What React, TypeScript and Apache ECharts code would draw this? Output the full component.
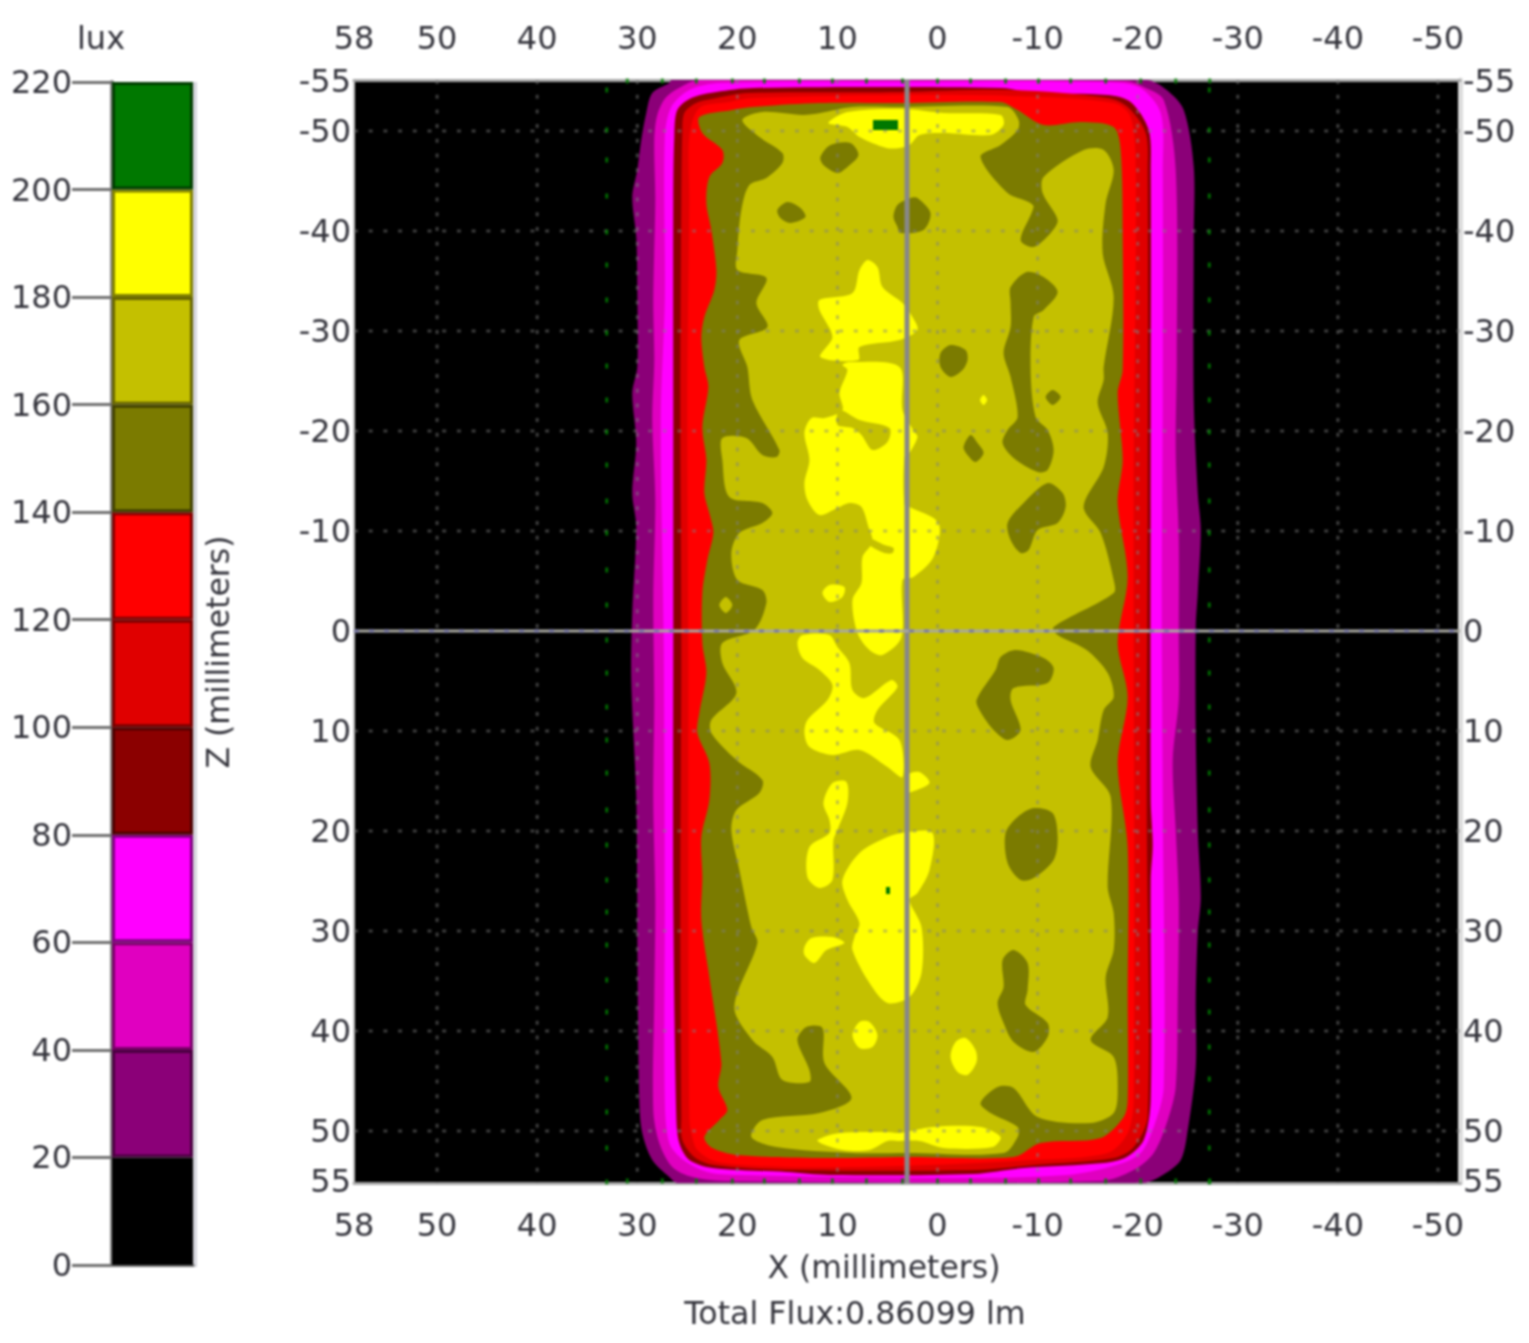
import React, { useEffect, useRef } from "react";
import * as echarts from "echarts";

type P = number[];

// ---- colour bar ----
const luxTicks = [0, 20, 40, 60, 80, 100, 120, 140, 160, 180, 200, 220];
const luxStep = [20, 20, 20, 20, 20, 20, 20, 20, 20, 20, 20];
const luxColors = ["#000000", "#8B0078", "#E000C0", "#FF00FF", "#8B0000", "#E00000", "#FF0000", "#7B7B00", "#C4C000", "#FFFF00", "#007800"];
const luxEdges = ["#000000", "#4a0040", "#780068", "#800080", "#4a0000", "#780000", "#800000", "#404000", "#666400", "#808000", "#003c00"];

// ---- axes ----
const xLabels = [58.3, 50, 40, 30, 20, 10, 0, -10, -20, -30, -40, -50];
const zLabels = [-55, -50, -40, -30, -20, -10, 0, 10, 20, 30, 40, 50, 55];
const xGrid = [50, 40, 30, 20, 10, 0, -10, -20, -30, -40, -50];
const zGrid = [-50, -40, -30, -20, -10, 10, 20, 30, 40, 50];
const sourceX = 3.05;
const sourceZ = 0;

// ---- contour outlines, [x mm, z mm] ----
const band20: P[] = [[26.6,-55.1],[26.8,-54.8],[28.5,-53.8],[29.1,-51.8],[29.6,-49.1],[30,-46.1],[30.5,-43.4],[30.1,-39.4],[30,-34.4],[30,-26.4],[30.5,-23.8],[30.1,-18.8],[30.5,-13.8],[30.1,-10.4],[30.5,-1.8],[30.6,4.9],[30.1,16.6],[30,26.6],[30,30.2],[29.8,46.9],[29.5,50.2],[28.5,52.9],[26.8,54.6],[26,55.2],[-20.5,55.2],[-22.5,54.4],[-24.3,52.9],[-25,49.9],[-25.8,43.6],[-25.8,36.9],[-26,30.2],[-26.3,26.6],[-26,19.9],[-25.8,9.9],[-25.8,-0.4],[-26,-3.8],[-26.3,-10.1],[-26,-13.8],[-25.6,-23.1],[-25.6,-39.4],[-25.6,-46.4],[-24.6,-52.1],[-22.9,-54.1],[-20.9,-55.1]];
const band40: P[] = [[23.8,-55.1],[25.1,-54.7],[27.1,-53.4],[28,-51.6],[28.3,-49.1],[28.2,-43.1],[28.4,-33.1],[28.3,-27.1],[28.5,-21.1],[28.2,-13.1],[28.4,-3.1],[28.3,6.9],[28.4,16.9],[28.2,26.9],[28.3,36.9],[28.4,47.9],[27.8,51.2],[26.5,53.6],[24.5,54.6],[20.8,55],[-16.3,55],[-19.6,53.9],[-21.6,52.2],[-23,48.9],[-23.8,45.6],[-24,36.9],[-24.1,26.9],[-23.8,19.9],[-23.5,12.9],[-24.1,6.9],[-24.1,0.9],[-24.1,-9.1],[-23.8,-18.1],[-23.9,-27.1],[-23.8,-46.1],[-22.6,-53.1],[-20.6,-54.4],[-18.8,-55]];
const band60: P[] = [[27.25,-49.4],[26.6,-52.4],[24.8,-54.1],[21.8,-54.8],[3.8,-54.9],[-16.3,-54.9],[-20.1,-54.4],[-22.3,-51.8],[-22.5,-46.1],[-22.5,-23.1],[-22.4,-3.1],[-22.5,16.9],[-22.6,45.6],[-21.6,49.6],[-20.3,52.2],[-17.9,53.4],[-12.9,54.4],[-1.3,54.7],[20,54.4],[23,54.1],[25.4,52.9],[26.8,51.2],[27.25,46.9],[27.25,26.9],[27.35,1.9],[27.65,-21.1],[27.25,-33.1]];
const band80: P[] = [[26.3,-49.4],[26,-52.1],[24.6,-53.3],[22.1,-53.9],[18.4,-54.3],[-6.4,-54.3],[-9.6,-53.8],[-17,-53.6],[-19.3,-52.9],[-21.1,-50.1],[-21.3,-46.1],[-21.3,-23.1],[-21.3,16.9],[-21.5,21.4],[-21.3,24.9],[-21.3,46.9],[-20.6,50.9],[-18.9,52.6],[-16.6,53.2],[-8.6,53.7],[-3.6,54.3],[10.8,54.4],[15.1,54.1],[22.5,53.7],[24.8,52.9],[25.8,51.2],[26.1,48.6],[26.4,26.9],[26.4,1.9],[26.4,-23.1],[26.4,-43.1]];
const band100: P[] = [[25.5,-49.8],[25.3,-51.8],[24.1,-52.8],[22.1,-53.3],[19,-53.8],[3.8,-53.9],[-7.3,-54.1],[-17,-53.3],[-19,-52.4],[-20.8,-49.8],[-21,-46.1],[-21,-13.1],[-20.9,16.9],[-21,48.5],[-19.6,51.6],[-17.6,52.7],[-9.6,53.4],[-3.9,53.9],[15.1,53.9],[22.4,53.4],[24.3,52.6],[25.5,50.9],[25.6,48.6],[25.7,26.9],[25.6,1.9],[25.7,-23.1],[25.6,-43.1]];
const band120: P[] = [[24.8,-49.4],[23.8,-52.3],[20.8,-52.9],[18.5,-53.3],[3.8,-53.6],[-7.3,-53.5],[-17.6,-52.8],[-19.3,-51.4],[-19.8,-46.1],[-19.6,-13.1],[-19.6,46.9],[-19,50.2],[-17,52.2],[-9.6,52.9],[3.8,53.5],[15,53.6],[22,53.1],[24,51.9],[24.6,50.2],[24.8,48.6],[24.9,26.9],[24.9,1.9],[25,-23.1],[24.8,-43.1]];
const band140: P[] = [[23.8,-51.4],[20.5,-52.1],[18.5,-52.4],[11.8,-52.8],[3.8,-52.8],[-6.3,-52.9],[-8,-52.1],[-10.6,-50.6],[-14.3,-50.9],[-17.6,-50.4],[-18.3,-48.1],[-18.5,-39.4],[-18.5,-26.1],[-18,-23.8],[-18.5,-17.1],[-18,-12.8],[-19,-5.4],[-18,1.2],[-19,6.6],[-18,13.2],[-19,21.6],[-19,36.9],[-19,46.9],[-18.6,48.6],[-16.3,50.7],[-10.3,51.2],[-7.6,52.6],[3,52.6],[11.8,52.7],[20,52.4],[22.5,51.7],[23.3,50.6],[21.8,48.9],[21,47.9],[21.9,45.6],[21.6,43.2],[22.8,34.6],[23.6,28.9],[23.5,24.6],[23.6,20.6],[22.8,16.9],[22.8,13.2],[24,10.2],[23.8,8.2],[23.1,4.2],[23.5,1.2],[23.5,-3.8],[23,-7.1],[22.4,-9.8],[22.7,-11.4],[23.3,-13.8],[23.1,-17.1],[23.5,-20.4],[22.9,-24.4],[23.3,-26.4],[23.6,-29.4],[23.3,-31.4],[22.3,-34.1],[22.1,-36.1],[22.6,-40.1],[23.1,-42.8],[22.8,-45.4],[21.5,-46.8],[21.5,-48.1],[23.5,-49.8]];
const band160: P[] = [[19.5,-51.1],[17.8,-49.4],[15.5,-47.8],[15.5,-46.8],[17.1,-45.3],[18.8,-44.6],[19.6,-42.1],[20,-38.1],[20,-36.1],[17.1,-35.3],[18.1,-32.8],[17,-30.4],[19.8,-29.1],[19,-26.4],[18.5,-23.1],[15.8,-18.1],[16.1,-17.4],[17.5,-17.6],[19.1,-19.3],[21.5,-19.3],[21.5,-17.1],[20.8,-13.4],[17.5,-12.8],[16.5,-11.8],[17.5,-10.8],[19.8,-9.8],[20.6,-7.8],[20,-5.1],[17.5,-4.1],[17.1,-2.8],[18.3,-0.1],[21.5,1.2],[21.5,3.2],[20.1,6.2],[22.6,8.9],[22.6,10.2],[20.1,12.9],[17.5,14.9],[17.8,16.2],[20.1,17.9],[20.6,19.9],[19.8,23.9],[18.6,29.6],[18,31.2],[20.3,37.6],[18.5,40.9],[16.5,42.6],[15.5,44.9],[12.8,45.1],[12.8,43.9],[14,40.9],[13.1,39.6],[11.5,39.7],[11.3,43.2],[8.6,46.7],[11.8,48.2],[17.5,48.9],[18.6,50.6],[16.1,51.6],[8.5,52.2],[3,52.2],[-6.6,52.2],[-8,50.6],[-8,49.6],[-5.3,48.2],[-4.3,47.2],[-6,45.6],[-7.6,45.7],[-10,48.6],[-15.3,49.2],[-17.6,48.2],[-18,45.9],[-17.6,42.6],[-15.3,40.9],[-17,38.6],[-16.8,34.6],[-17.6,31.9],[-17.6,28.2],[-17,25.6],[-17.3,16.6],[-15.3,13.6],[-16,10.9],[-16.6,7.9],[-17.6,6.6],[-17,4.2],[-14.9,1.9],[-12,0.4],[-11.6,-0.4],[-17.6,-3.8],[-17.6,-5.1],[-16.3,-9.8],[-14.6,-12.4],[-16.6,-16.4],[-17,-19.8],[-16,-22.8],[-16.6,-25.1],[-16.6,-26.4],[-17.6,-33.4],[-16.5,-37.8],[-16.8,-42.8],[-17.6,-46.1],[-16.6,-48.1],[-14.6,-48.1],[-10.6,-45.4],[-10.5,-43.8],[-12,-41.1],[-11.3,-39.8],[-9.6,-38.4],[-8.3,-39.1],[-9.6,-42.4],[-9.1,-42.9],[-7,-43.8],[-4.3,-47.4],[-6.3,-48.6],[-8,-50.1],[-8.1,-51.1],[-7,-52.4],[3.8,-52.4],[8.5,-52.4],[11.7,-51.8],[13.5,-51.6],[17.5,-51.9]];
const spot160: P[] = [[21.8,-2.6],[21.15,-3.4],[20.5,-2.6],[21.15,-1.8]];

const pits140: P[][] = [
  [[11.7,-47.4],[10.7,-48.6],[8.7,-48.8],[7.9,-47.6],[9,-46.4],[10,-45.8],[11.4,-46.6]],
  [[16,-42.1],[15,-42.9],[13.7,-42.3],[13.2,-41.4],[14.7,-40.8],[15.7,-41.3]],
  [[4.4,-41.4],[4,-42.6],[2.7,-43.3],[2,-43.3],[0.7,-41.8],[1.4,-40.1],[3.7,-39.8],[4,-40.4]],
  [[-7.3,-34.4],[-8.9,-35.9],[-10.6,-35.4],[-12,-33.9],[-10.6,-32.1],[-9.6,-31.4],[-9.3,-26.1],[-9.8,-21.4],[-11,-20.1],[-11.6,-18.1],[-11,-16.1],[-10,-15.9],[-7.6,-17.3],[-6.5,-18.8],[-7,-20.1],[-8,-21.4],[-7.3,-25.4],[-6.6,-27.8],[-7.3,-30.4],[-7.3,-32.8]],
  [[-0.3,-27.8],[-1.3,-28.6],[-2.8,-28.1],[-3,-27.1],[-2.5,-26.1],[-1.3,-25.4],[-0.3,-26.4]],
  [[-10.8,-23.4],[-11.5,-24.1],[-12.3,-23.4],[-11.5,-22.6]],
  [[-2.6,-18.4],[-3.3,-19.6],[-4,-18.8],[-4.6,-17.8],[-3.8,-16.9],[-3,-17.6]],
  [[-7,-10.8],[-8.6,-12.8],[-11,-14.8],[-12.5,-13.8],[-12.8,-12.4],[-12,-10.8],[-10,-10.1],[-9.1,-8.1],[-8.3,-7.8],[-7.3,-9.1]],
  [[-3.9,6.9],[-5.8,3.9],[-6.3,2.6],[-7.8,1.9],[-10.6,2.7],[-11.6,3.7],[-11,5.2],[-7.6,5.7],[-7.3,6.9],[-8.3,9.9],[-7,10.9],[-5.6,9.9],[-4.3,8.1]],
  [[-6.8,20.2],[-8,18.6],[-9.6,17.7],[-11.5,18.2],[-12,20.6],[-11.6,22.9],[-9.6,24.7],[-8.3,24.9],[-7,23.2]],
  [[-6.5,32.9],[-7.6,31.9],[-9,33.2],[-9,35.9],[-8.8,37.4],[-11,39.2],[-11,40.6],[-9.6,42.1],[-7.6,41.1],[-6.6,39.2],[-6,37.2],[-6.6,35.6]],
];

const peaks180: P[][] = [
  [[10.9,-50.8],[9,-51.9],[3.5,-52.2],[-0.6,-51.8],[-6.3,-51.6],[-6.6,-50.6],[-5.3,-49.6],[-0.6,-49.8],[1.8,-49.6],[2.8,-48.6],[3.8,-48.3],[5.1,-48.3],[7.8,-49.4],[9,-50.4]],
  [[7,-37.1],[6,-36.4],[5.5,-34.4],[3.5,-32.8],[2.5,-31.4],[2,-30.1],[3.8,-29.1],[7.8,-28.4],[7.9,-27.1],[11.7,-27.4],[10.5,-29.4],[11.8,-32.1],[11.8,-33.1],[8.5,-33.8],[7.8,-36.1]],
  [[9.5,-26.6],[8.8,-26.9],[3.8,-26.4],[3.5,-22.1],[2.3,-19.9],[2,-19.4],[2.8,-17.8],[3.3,-17.4],[3.3,-12.6],[2.8,-12.4],[-0.1,-10.8],[0.4,-7.4],[2.4,-5.4],[3.5,-5.1],[3.6,0.6],[5.5,2.4],[6.8,1.9],[8,0.2],[8.5,-3.1],[7.6,-4.8],[7.5,-7.4],[6.5,-8.9],[6.9,-10.4],[7.6,-12.4],[8.8,-12.8],[10,-12.3],[11.8,-11.6],[13,-13.1],[13.3,-14.8],[12.8,-17.1],[13.3,-19.8],[12.6,-21.3],[11.3,-21.3],[9.5,-22.1],[9.8,-23.8],[9,-26.1]],
  [[11.5,-3.8],[10.8,-4.6],[9.3,-4.4],[9.5,-3.4],[10.8,-2.9]],
  [[14,1.2],[13.5,0.4],[10.8,0.4],[10,1.6],[8.8,3.2],[8.5,5.9],[7.3,6.7],[4.6,4.9],[4,5.6],[6,7.9],[6.3,9.2],[3.8,10.9],[3.5,14.6],[5,13.6],[7.8,11.9],[10.5,12.4],[12.8,11.6],[13.3,10.2],[13,8.9],[11,6.9],[10.5,5.4],[11.8,3.9],[13.5,2.7]],
  [[3,14.4],[1.8,14.1],[0.8,15.2],[2.6,16.1],[3,16.1]],
  [[11.4,17.2],[10.5,15.2],[9.1,15.1],[9,17.2],[10,19.9],[10.4,20.9],[10.5,24.9],[11.8,25.7],[13,24.6],[12.8,21.6],[10.8,20.2],[10.8,18.9]],
  [[9.5,24.9],[7.8,22.2],[5,20.6],[3,20.1],[0.5,20.2],[0.8,23.9],[2,26.2],[2.8,26.9],[1.6,29.6],[1.6,34.2],[2.8,36.6],[5,37.2],[6.8,35.2],[8.5,31.9],[8.3,30.6],[7.8,29.2],[9,26.9]],
  [[13.3,31.6],[12.6,30.7],[10.5,30.6],[9.3,31.2],[11.1,31.9],[12.3,33.2],[13.3,32.4]],
  [[8.5,40.4],[7.8,39.1],[6.8,39.1],[6,40.4],[6.5,41.6],[7.8,41.7]],
  [[-1.3,42.6],[-1.8,41.1],[-2.8,40.7],[-3.8,41.9],[-3.9,43.1],[-3,44.4],[-2,44.1]],
  [[12,50.9],[9.8,50.2],[5,50.1],[3.8,50.2],[0.5,49.6],[-4.3,49.6],[-6.3,50.6],[-5.5,51.6],[-0.6,51.7],[1.8,51],[3.8,51],[5,51],[6.8,51.9],[9.5,51.9],[11.5,51.3]],
  [[-4.25,-23.1],[-4.6,-23.6],[-4.95,-23.1],[-4.6,-22.6]],
];

const wedges160: P[][] = [
  [[9.8,-22.1],[7.8,-21.1],[4.8,-20.3],[5,-18.9],[6.5,-18.1],[7.6,-19.6],[8.5,-20.3],[10,-20.6]],
  [[6.9,-9.3],[5.3,-8.6],[4.4,-8.3],[4.5,-7.8],[5.3,-7.8],[6.8,-8.6]],
];

const peaks200: P[][] = [
  [[6.45,-51.1],[3.95,-51.1],[3.95,-50.1],[6.45,-50.1]],
  [[5.15,25.6],[4.75,25.6],[4.75,26.3],[5.15,26.3]],
];

// ---- faint acquisition dots ----
const dotColumnsX = [33.05, -27.15];
const dotColumnZ = [-54.1,-50.1,-47.1,-43.5,-39.9,-36.6,-33.1,-29.8,-26.5,-23.1,-19.9,-16.6,-13,-9.8,-6.1,-2.6,0.9,4.2,7.6,10.9,14.2,17.9,21.4,24.9,28.1,31.4,34.9,38.1,41.6,44.8,48.1,51.7,55.1];
const dotRowsZ = [-55, 55];
const dotRowX = [31,27.5,24.1,20.5,17.3,13.8,10.5,7.1,3.5,0,-3.3,-6.8,-10.1,-13.3,-16.8,-20.3,-23.8,-27.2];

const FONT = "'DejaVu Sans', sans-serif";
const TEXT = "#34343c";

const X_MIN = -52.2, X_MAX = 58.3, Z_MIN = -55.1, Z_MAX = 55.2;

function polySeries(name: string, pts: P[], color: string, smooth: number) {
  return {
    type: "custom", name, xAxisIndex: 0, yAxisIndex: 0, clip: true, silent: true,
    encode: { x: 0, y: 1 }, data: pts,
    renderItem: (params: any, api: any) =>
      params.dataIndex === 0
        ? { type: "polygon", shape: { points: pts.map((p) => api.coord(p)), smooth }, style: { fill: color } }
        : null,
  };
}

function lineSeries(name: string, segs: number[][], stroke: string, lineWidth: number, lineDash?: number[]) {
  return {
    type: "custom", name, xAxisIndex: 0, yAxisIndex: 0, clip: true, silent: true,
    encode: { x: [0, 2], y: [1, 3] }, data: segs,
    renderItem: (_: any, api: any) => {
      const a = api.coord([api.value(0), api.value(1)]);
      const b = api.coord([api.value(2), api.value(3)]);
      return {
        type: "line",
        shape: { x1: a[0], y1: a[1], x2: b[0], y2: b[1] },
        style: { stroke, lineWidth, lineDash, fill: "none" },
      };
    },
  };
}

const axisTextStyle = { fontFamily: FONT, fontSize: 32, color: TEXT };
const roundLabel = (v: number) => String(Math.round(v));

export default function App() {
  const ref = useRef<HTMLDivElement>(null);
  useEffect(() => {
    const chart = echarts.init(ref.current!, undefined, { renderer: "svg", width: 1529, height: 1343 });
    const S = 0.3;
    const contours: any[] = [
      polySeries("20 lux", band20, luxColors[1], S),
      polySeries("40 lux", band40, luxColors[2], S),
      polySeries("60 lux", band60, luxColors[3], S),
      polySeries("80 lux", band80, luxColors[4], S),
      polySeries("100 lux", band100, luxColors[5], S),
      polySeries("120 lux", band120, luxColors[6], S),
      polySeries("140 lux", band140, luxColors[7], S),
      polySeries("160 lux", band160, luxColors[8], S),
      polySeries("160 lux spot", spot160, luxColors[8], S),
      ...pits140.map((p, i) => polySeries("140 lux pit " + i, p, luxColors[7], S)),
      ...peaks180.map((p, i) => polySeries("180 lux peak " + i, p, luxColors[9], S)),
      ...wedges160.map((p, i) => polySeries("160 lux wedge " + i, p, luxColors[8], S)),
      ...peaks200.map((p, i) => polySeries("200 lux peak " + i, p, luxColors[10], 0)),
    ];
    const gridSegs: number[][] = [
      ...xGrid.map((x) => [x, Z_MIN, x, Z_MAX]),
      ...zGrid.map((z) => [X_MAX, z, X_MIN, z]),
    ];
    const dotData: number[][] = [];
    dotColumnsX.forEach((x) => dotColumnZ.forEach((z) => dotData.push([x, z])));
    dotRowsZ.forEach((z) => dotRowX.forEach((x) => dotData.push([x, z])));

    chart.setOption({
      animation: false,
      backgroundColor: "#ffffff",
      grid: [
        { left: 354, top: 80, width: 1106, height: 1103, show: true, backgroundColor: "#000000", borderWidth: 0 },
        { left: 112, top: 82, width: 81, height: 1183, show: false },
      ],
      xAxis: [
        {
          type: "value", gridIndex: 0, position: "bottom", inverse: true, min: X_MIN, max: X_MAX,
          axisLine: { onZero: false, lineStyle: { color: "#a8a8a8", width: 3 } },
          axisTick: { show: false }, splitLine: { show: false },
          axisLabel: { customValues: xLabels, margin: 26, formatter: roundLabel, ...axisTextStyle },
        },
        {
          type: "value", gridIndex: 0, position: "top", inverse: true, min: X_MIN, max: X_MAX,
          axisLine: { onZero: false, lineStyle: { color: "#a8a8a8", width: 3 } },
          axisTick: { show: false }, splitLine: { show: false },
          axisLabel: { customValues: xLabels, margin: 26, formatter: roundLabel, ...axisTextStyle },
        },
        {
          type: "category", gridIndex: 1, data: ["lux"], boundaryGap: true,
          axisLine: { onZero: false, lineStyle: { color: "#707070", width: 3 } },
          axisTick: { show: false }, axisLabel: { show: false }, splitLine: { show: false },
        },
      ],
      yAxis: [
        {
          type: "value", gridIndex: 0, position: "left", inverse: true, min: Z_MIN, max: Z_MAX,
          axisLine: { onZero: false, lineStyle: { color: "#c4c4c4", width: 2 } },
          axisTick: { show: false }, splitLine: { show: false },
          axisLabel: { customValues: zLabels, margin: 3, ...axisTextStyle },
        },
        {
          type: "value", gridIndex: 0, position: "right", inverse: true, min: Z_MIN, max: Z_MAX,
          axisLine: { onZero: false, lineStyle: { color: "#dcdcdc", width: 5 } },
          axisTick: { show: false }, splitLine: { show: false },
          axisLabel: { customValues: zLabels, margin: 3, ...axisTextStyle },
        },
        {
          type: "value", gridIndex: 1, position: "left", min: 0, max: 220, interval: 20,
          axisLine: { show: true, onZero: false, lineStyle: { color: "#8a8a8a", width: 4 } },
          axisTick: { show: true, length: 40, lineStyle: { color: "#707070", width: 3 } },
          splitLine: { show: false },
          axisLabel: { margin: 40, ...axisTextStyle, customValues: luxTicks },
        },
      ],
      graphic: [
        { type: "rect", shape: { x: 193, y: 82, width: 4, height: 1185 }, style: { fill: "#d6d6dc" }, silent: true },
        { type: "text", x: 101, y: 38, style: { text: "lux", font: `32px ${FONT}`, fill: TEXT, align: "center", verticalAlign: "middle" } },
        { type: "text", x: 218, y: 652, rotation: Math.PI / 2, style: { text: "Z (millimeters)", font: `31.5px ${FONT}`, fill: TEXT, align: "center", verticalAlign: "middle" } },
        { type: "text", x: 884, y: 1267, style: { text: "X (millimeters)", font: `31.5px ${FONT}`, fill: TEXT, align: "center", verticalAlign: "middle" } },
        { type: "text", x: 855, y: 1313, style: { text: "Total Flux:0.86099 lm", font: `31.7px ${FONT}`, fill: TEXT, align: "center", verticalAlign: "middle" } },
      ],
      series: [
        ...luxStep.map((v, i) => ({
          type: "bar", name: "lux band " + i, xAxisIndex: 2, yAxisIndex: 2, stack: "lux", barWidth: "100%", silent: true,
          data: [v],
          itemStyle: { color: luxColors[i], borderColor: luxEdges[i], borderWidth: 3 },
        })),
        ...contours,
        {
          type: "scatter", name: "dots", xAxisIndex: 0, yAxisIndex: 0, silent: true, symbol: "rect",
          symbolSize: [3, 5], data: dotData, itemStyle: { color: "#008000" }, clip: true,
        },
        lineSeries("grid", gridSegs, "rgba(128,128,128,0.48)", 3, [4, 10.7]),
        lineSeries("source x", [[sourceX, Z_MIN, sourceX, Z_MAX]], "#888888", 5),
        lineSeries("source z", [[X_MAX, sourceZ, X_MIN, sourceZ]], "#a8a8a0", 3),
        lineSeries("source z dash", [[X_MAX, sourceZ, X_MIN, sourceZ]], "#7c7ca8", 3, [5, 10]),
      ],
    });
    return () => chart.dispose();
  }, []);
  return (
    <div
      ref={ref}
      style={{ position: "absolute", left: 0, top: 0, width: 1529, height: 1343, background: "#fff", filter: "blur(0.8px)" }}
    />
  );
}
